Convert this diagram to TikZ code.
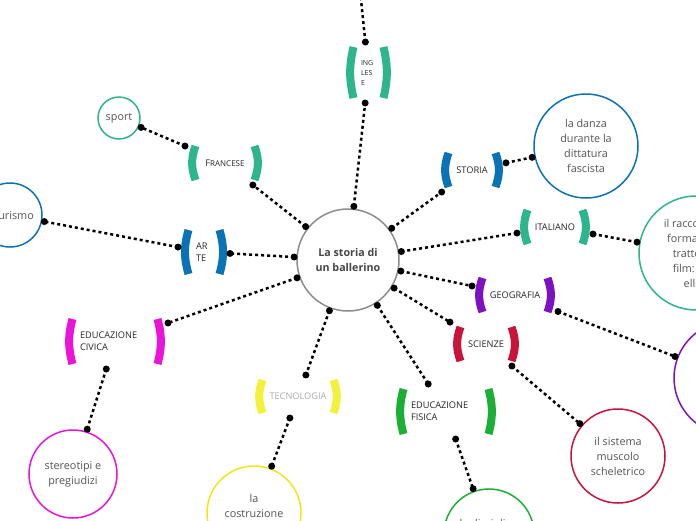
\documentclass[tikz,border=0pt]{standalone}
\usepackage{fontspec}
\setmainfont{Open Sans}
\usepackage{tikz}
\usepackage{xcolor}
\usetikzlibrary{calc}

\definecolor{mmteal}{HTML}{2DB58B}
\definecolor{mmblue}{HTML}{0A73B5}
\definecolor{mmpurple}{HTML}{7C12C2}
\definecolor{mmred}{HTML}{C8133A}
\definecolor{mmgreen}{HTML}{1CAF35}
\definecolor{mmyellow}{HTML}{F2F23C}
\definecolor{mmgold}{HTML}{F6E414}
\definecolor{mmpink}{HTML}{EC13D9}
\definecolor{mmgray}{HTML}{8C8C8C}

\tikzset{
  subj/.style={rectangle, inner sep=0pt, outer sep=0pt, align=center,
    font=\fontsize{9.2}{12}\selectfont, text=black!85},
  subjl/.style={subj, text width=#1, align=left},
  topic/.style={circle, draw=#1, line width=1.5pt, inner sep=0pt, outer sep=3pt,
    align=center, font=\fontsize{10.8}{15}\selectfont, text=black!67},
  link/.style={line width=2.5pt, dash pattern=on 3pt off 3pt},
  dot/.style={circle, fill=black, inner sep=0pt, minimum size=7pt},
  brk/.style={line width=8pt},
}

% the two curved bars round a subject
\newcommand{\subjbrk}[3]{%
  \draw[brk, #2] ($(#1.north west)+(10.5,5)$) to[bend right=#3] ($(#1.south west)+(10.5,-5)$);
  \draw[brk, #2] ($(#1.north east)+(-10.5,5)$) to[bend left=#3] ($(#1.south east)+(-10.5,-5)$);
}

\begin{document}
\begin{tikzpicture}[x=1pt, y=-1pt]

\clip (0,0) rectangle (696,520);
\fill[white] (0,0) rectangle (696,520);

% centre
\node[topic=mmgray, minimum size=102pt, font=\bfseries\fontsize{10.7}{15}\selectfont, text=black!72] (ctr) at (348,260) {La storia di\\un ballerino};

% subjects
\node[subjl=15pt, minimum width=51pt, minimum height=61pt, font=\fontsize{7}{10}\selectfont] (ing) at (368.5,72.5) {ING\\LES\\E};
\node[subj, minimum width=80pt, minimum height=44pt] (fra) at (225,163) {F{\fontsize{8}{12}\selectfont RANCESE}};
\node[subjl=16pt, minimum width=52pt, minimum height=54pt] (arte) at (204,252) {AR\\TE};
\node[subj, minimum width=68pt, minimum height=44pt] (sto) at (472,170) {STORIA};
\node[subj, minimum width=76pt, minimum height=44pt] (ita) at (555,227) {ITALIANO};
\node[subj, minimum width=86pt, minimum height=44pt] (geo) at (515,295) {GEOGRAFIA};
\node[subj, minimum width=72pt, minimum height=44pt] (sci) at (486,344) {SCIENZE};
\node[subjl=70pt, minimum width=106pt, minimum height=55pt] (fis) at (446,411.5) {EDUCAZIONE\\FISICA};
\node[subj, minimum width=92pt, minimum height=43pt, text=black!33] (tec) at (298,396.5) {TECNOLOGIA};
\node[subjl=70pt, minimum width=106pt, minimum height=55pt] (civ) at (115,341.5) {EDUCAZIONE\\CIVICA};

\subjbrk{ing}{mmteal}{13}
\subjbrk{fra}{mmteal}{20}
\subjbrk{arte}{mmblue}{16}
\subjbrk{sto}{mmblue}{20}
\subjbrk{ita}{mmteal}{20}
\subjbrk{geo}{mmpurple}{20}
\subjbrk{sci}{mmred}{20}
\subjbrk{fis}{mmgreen}{15}
\subjbrk{tec}{mmyellow}{20}
\subjbrk{civ}{mmpink}{15}

% topics
\node[topic=mmteal, minimum size=42pt] (sport) at (119,118) {sport};
\node[topic=mmblue, minimum size=64pt] (tur) at (10,215) {il turismo};
\node[topic=mmblue, minimum size=104pt] (danza) at (586,146) {la danza\\durante la\\dittatura\\fascista};
\node[topic=mmteal, minimum size=114pt] (racc) at (696,253) {il racconto di\\formazione\\tratto dal\\film: Billy\\elliot};
\node[topic=mmpurple, minimum size=114pt] (viag) at (731,378) {};
\node[topic=mmred, minimum size=94pt] (musc) at (618,456) {il sistema\\muscolo\\scheletrico};
\node[topic=mmgreen, minimum size=90pt] (corpo) at (489,534) {la disciplina\\[7pt]del ballo};
\node[topic=mmgold, minimum size=94pt] (costr) at (254,513) {la\\costruzione\\del teatro};
\node[topic=mmpink, minimum size=88pt] (stereo) at (73,474) {stereotipi e\\pregiudizi};

\coordinate (up) at (360,-10);

% connectors
\draw[link] (ing) -- (up) node[dot, pos=0] {};
\draw[link] (ctr) -- (ing) node[dot, pos=0] {} node[dot, pos=1] {};
\draw[link] (ctr) -- (fra) node[dot, pos=0] {} node[dot, pos=1] {};
\draw[link] (fra) -- (sport) node[dot, pos=0] {} node[dot, pos=1] {};
\draw[link] (ctr) -- (arte) node[dot, pos=0] {} node[dot, pos=1] {};
\draw[link] (arte) -- (tur) node[dot, pos=0] {} node[dot, pos=1] {};
\draw[link] (ctr) -- (sto) node[dot, pos=0] {} node[dot, pos=1] {};
\draw[link] (sto) -- (danza) node[dot, pos=0] {} node[dot, pos=1] {};
\draw[link] (ctr) -- (ita) node[dot, pos=0] {} node[dot, pos=1] {};
\draw[link] (ita) -- (racc) node[dot, pos=0] {} node[dot, pos=1] {};
\draw[link] (ctr) -- (geo) node[dot, pos=0] {} node[dot, pos=1] {};
\draw[link] (geo) -- (viag) node[dot, pos=0] {} node[dot, pos=1] {};
\draw[link] (ctr) -- (sci) node[dot, pos=0] {} node[dot, pos=1] {};
\draw[link] (sci) -- (musc) node[dot, pos=0] {} node[dot, pos=1] {};
\draw[link] (ctr) -- (fis) node[dot, pos=0] {} node[dot, pos=1] {};
\draw[link] (fis) -- (corpo) node[dot, pos=0] {} node[dot, pos=1] {};
\draw[link] (ctr) -- (tec) node[dot, pos=0] {} node[dot, pos=1] {};
\draw[link] (tec) -- (costr) node[dot, pos=0] {} node[dot, pos=1] {};
\draw[link] (ctr) -- (civ) node[dot, pos=0] {} node[dot, pos=1] {};
\draw[link] (civ) -- (stereo) node[dot, pos=0] {} node[dot, pos=1] {};

\end{tikzpicture}
\end{document}
